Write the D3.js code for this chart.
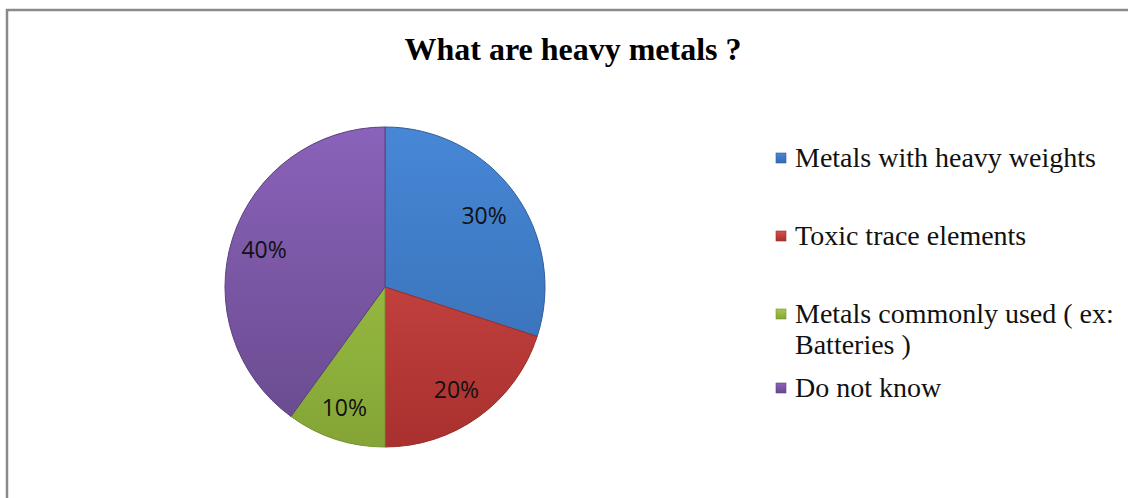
<!DOCTYPE html>
<html>
<head>
<meta charset="utf-8">
<script src="https://cdn.jsdelivr.net/npm/d3@7"></script>
<style>
  html, body { margin: 0; padding: 0; background: #fff; }
  svg { display: block; }
</style>
</head>
<body>
<svg id="chart" width="1128" height="498"></svg>
<script>
const title = "What are heavy metals ?";
const categories = ["Metals with heavy weights", "Toxic trace elements", "Metals commonly used ( ex: Batteries )", "Do not know"];
const values = [30, 20, 10, 40];
const colorsTop = ["#4787d6", "#d9504c", "#a6ca4a", "#8a62ba"];
const colorsBottom = ["#356cb0", "#a8302e", "#84a536", "#684a8c"];
const strokeColors = ["#2f5e98", "#9a2e2b", "#75932f", "#5c4080"];

const W = 1128, H = 498;
const svg = d3.select("#chart");

// frame
svg.append("path")
  .attr("d", `M7,${H} L7,10 L${W},10`)
  .attr("fill", "none")
  .attr("stroke", "#8a8a8a")
  .attr("stroke-width", 2.5);

// title
svg.append("text")
  .attr("x", 573).attr("y", 60)
  .attr("text-anchor", "middle")
  .attr("font-family", "Liberation Serif, Times New Roman, serif")
  .attr("font-weight", "bold")
  .attr("font-size", 32)
  .text(title);

const cx = 385, cy = 287, R = 160;
const defs = svg.append("defs");
categories.forEach((c, i) => {
  const g = defs.append("linearGradient")
    .attr("id", "g" + i)
    .attr("gradientUnits", "userSpaceOnUse")
    .attr("x1", 0).attr("y1", -R).attr("x2", 0).attr("y2", R);
  g.append("stop").attr("offset", "0%").attr("stop-color", colorsTop[i]);
  g.append("stop").attr("offset", "100%").attr("stop-color", colorsBottom[i]);
  const lg = defs.append("linearGradient")
    .attr("id", "lg" + i)
    .attr("x1", 0).attr("y1", 0).attr("x2", 0).attr("y2", 1);
  lg.append("stop").attr("offset", "0%").attr("stop-color", colorsTop[i]);
  lg.append("stop").attr("offset", "100%").attr("stop-color", colorsBottom[i]);
});

const pie = d3.pie().sort(null).value(d => d);
const arcs = pie(values);
const arc = d3.arc().innerRadius(0).outerRadius(R);
const labelArc = d3.arc().innerRadius(125).outerRadius(125);

const gp = svg.append("g").attr("transform", `translate(${cx},${cy})`);
gp.selectAll("path.slice").data(arcs).join("path")
  .attr("class", "slice")
  .attr("d", arc)
  .attr("fill", (d, i) => `url(#g${i})`)
  .attr("stroke", (d, i) => strokeColors[i])
  .attr("stroke-width", 1);

gp.selectAll("text.lbl").data(arcs).join("text")
  .attr("class", "lbl")
  .attr("transform", d => { const c = labelArc.centroid(d); return `translate(${c[0] - 2},${c[1] + 2})`; })
  .attr("text-anchor", "middle")
  .attr("dy", "0.35em")
  .attr("font-family", "Open Sans, Liberation Sans, sans-serif")
  .attr("font-size", 23)
  .attr("fill", "#111")
  .text(d => d.data + "%");

// legend
const legendX = 776, textX = 795, maxW = 325;
const lineH = 31;
const legendY = [158, 236, 314, 388];
const lg = svg.append("g");
categories.forEach((c, i) => {
  lg.append("rect")
    .attr("x", legendX).attr("y", legendY[i] - 5)
    .attr("width", 10).attr("height", 10)
    .attr("fill", `url(#lg${i})`)
    .attr("stroke", strokeColors[i]).attr("stroke-width", 0.6);
  const t = lg.append("text")
    .attr("x", textX).attr("y", legendY[i])
    .attr("dy", "0.33em")
    .attr("font-family", "Liberation Serif, Times New Roman, serif")
    .attr("font-size", 28)
    .attr("fill", "#111");
  // simple word wrap
  const words = c.split(" ");
  let line = [];
  let tspan = t.append("tspan").attr("x", textX);
  words.forEach(w => {
    line.push(w);
    tspan.text(line.join(" "));
    if (tspan.node().getComputedTextLength() > maxW && line.length > 1) {
      line.pop();
      tspan.text(line.join(" "));
      line = [w];
      tspan = t.append("tspan").attr("x", textX).attr("dy", lineH).text(w);
    }
  });
});
</script>
</body>
</html>
